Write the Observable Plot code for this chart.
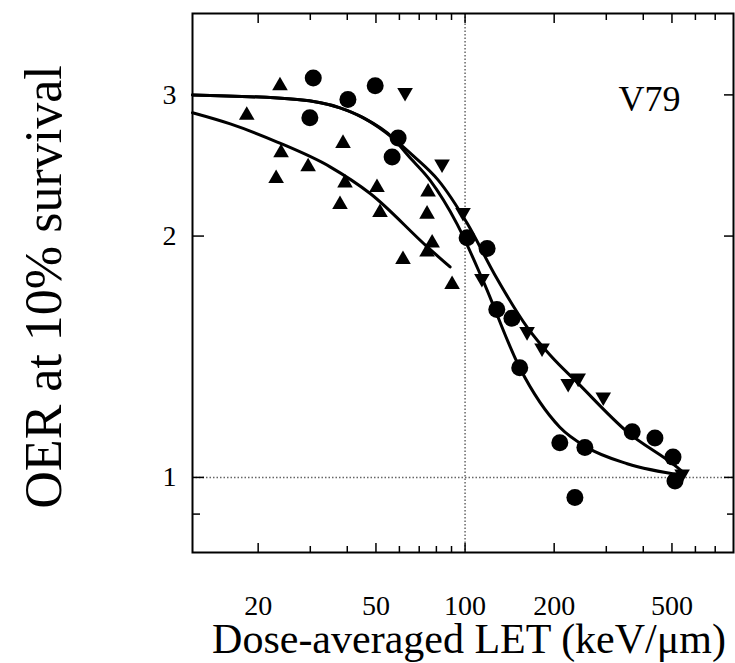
<!DOCTYPE html>
<html><head><meta charset="utf-8">
<script src="https://cdn.jsdelivr.net/npm/d3@7"></script>
<script src="https://cdn.jsdelivr.net/npm/@observablehq/plot@0.6"></script>
<style>body{margin:0;background:#fff}</style>
</head><body><div id="chart"></div>
<script>
// Tick values
const xTickLabels = [20, 50, 100, 200, 500];
const xMinorTicks = [30, 40, 60, 70, 80, 90, 300, 400, 600, 700];
const yTickLabels = [1, 2, 3];
const yMinorTicks = [0.9];

// Up triangles
const upX = [18.3, 23.7, 23.9, 23.0, 29.5, 38.7, 39.3, 37.8, 50.4, 51.6, 61.7, 75.0, 74.4, 77.4, 74.4, 90.4];
const upY = [2.83, 3.08, 2.54, 2.36, 2.44, 2.61, 2.33, 2.19, 2.30, 2.14, 1.87, 2.27, 2.13, 1.96, 1.91, 1.74];
// Circles
const circX = [30.7, 29.9, 40.2, 49.7, 59.4, 56.7, 101.6, 118.7, 128, 144, 153, 209, 254, 367, 438, 504, 512, 235];
const circY = [3.15, 2.81, 2.96, 3.08, 2.65, 2.51, 1.99, 1.93, 1.62, 1.58, 1.37, 1.105, 1.09, 1.14, 1.12, 1.06, 0.99, 0.944];
// Down triangles
const downX = [62.7, 83.6, 98.4, 114, 162, 182, 223, 241, 293, 541];
const downY = [3.02, 2.46, 2.14, 1.77, 1.52, 1.45, 1.31, 1.33, 1.26, 1.01];

// Fitted curves
const heCurveX = [12, 16.1, 23.2, 35.0, 47.8, 74.4, 89];
const heCurveY = [2.85, 2.76, 2.62, 2.44, 2.26, 1.94, 1.83];
const cCurveX = [12, 27.1, 37.8, 45.2, 57.1, 64.2, 76, 94, 115, 153, 209, 258, 353, 545];
const cCurveY = [3.0, 2.96, 2.89, 2.81, 2.65, 2.52, 2.35, 2.07, 1.76, 1.37, 1.155, 1.09, 1.04, 1.006];
const neCurveX = [12, 27.1, 37.8, 45.2, 57.1, 66.7, 81, 102, 126, 162, 194, 241, 353, 520, 545];
const neCurveY = [3.0, 2.96, 2.89, 2.81, 2.65, 2.52, 2.35, 2.07, 1.79, 1.54, 1.42, 1.31, 1.14, 1.03, 1.015];

const zip = (xs, ys) => xs.map((x, i) => ({x, y: ys[i]}));

const triDown = {
  draw(ctx, size) {
    const s3 = Math.sqrt(3);
    const y = -Math.sqrt(size / (s3 * 3));
    ctx.moveTo(0, -y * 2);
    ctx.lineTo(-s3 * y, y);
    ctx.lineTo(s3 * y, y);
    ctx.closePath();
  }
};

const serif = "Liberation Serif";
const tickOpts = {tickFormat: () => "", label: null, strokeWidth: 1.5};

const chart = Plot.plot({
  width: 735,
  height: 663,
  marginLeft: 192,
  marginRight: 2,
  marginTop: 13,
  marginBottom: 111,
  style: {background: "white", fontFamily: serif, color: "black"},
  x: {type: "log", domain: [12, 807]},
  y: {type: "log", domain: [0.806, 3.79]},
  marks: [
    Plot.ruleX([100], {stroke: "#666", strokeWidth: 1.5, strokeDasharray: "1.5,2"}),
    Plot.ruleY([1], {stroke: "#666", strokeWidth: 1.5, strokeDasharray: "1.5,2"}),
    Plot.line(zip(heCurveX, heCurveY), {x: "x", y: "y", curve: "monotone-x", stroke: "black", strokeWidth: 3}),
    Plot.line(zip(cCurveX, cCurveY), {x: "x", y: "y", curve: "monotone-x", stroke: "black", strokeWidth: 3}),
    Plot.line(zip(neCurveX, neCurveY), {x: "x", y: "y", curve: "monotone-x", stroke: "black", strokeWidth: 3}),
    Plot.dot(zip(upX, upY), {x: "x", y: "y", symbol: "triangle", r: 5.8, fill: "black"}),
    Plot.dot(zip(circX, circY), {x: "x", y: "y", symbol: "circle", r: 8.5, fill: "black"}),
    Plot.dot(zip(downX, downY), {x: "x", y: "y", symbol: triDown, r: 5.8, fill: "black"}),
    Plot.text(["V79"], {x: 420, y: 2.96, text: d => d, fontSize: 36, fontFamily: serif, fill: "black"}),
    Plot.frame({stroke: "black", strokeWidth: 2}),
    // inward tick marks
    Plot.axisX(xTickLabels, {anchor: "bottom", tickSize: -9, ...tickOpts}),
    Plot.axisX(xMinorTicks, {anchor: "bottom", tickSize: -6, ...tickOpts}),
    Plot.axisX(xTickLabels, {anchor: "top", tickSize: -9, ...tickOpts}),
    Plot.axisX(xMinorTicks, {anchor: "top", tickSize: -6, ...tickOpts}),
    Plot.axisY(yTickLabels, {anchor: "left", tickSize: -12, ...tickOpts}),
    Plot.axisY(yMinorTicks, {anchor: "left", tickSize: -8, ...tickOpts}),
    Plot.axisY(yTickLabels, {anchor: "right", tickSize: -10, ...tickOpts}),
    Plot.axisY(yMinorTicks, {anchor: "right", tickSize: -7, ...tickOpts}),
    // tick labels
    Plot.text(xTickLabels, {x: d => d, frameAnchor: "bottom", lineAnchor: "middle", dy: 54, text: d => String(d), fontSize: 28, fontFamily: serif, fill: "black"}),
    Plot.text(yTickLabels, {y: d => d, frameAnchor: "left", textAnchor: "end", lineAnchor: "middle", dx: -16, text: d => String(d), fontSize: 28, fontFamily: serif, fill: "black"}),
    // axis titles
    Plot.text(["OER at 10% survival"], {frameAnchor: "left", textAnchor: "middle", lineAnchor: "middle", dx: -148, dy: 4, rotate: -90, text: d => d, fontSize: 52, fontFamily: serif, fill: "black"}),
    Plot.text(["Dose-averaged LET (keV/μm)"], {frameAnchor: "bottom", textAnchor: "middle", lineAnchor: "middle", dx: 6, dy: 87, text: d => d, fontSize: 42, fontFamily: serif, fill: "black"})
  ]
});
document.getElementById("chart").appendChild(chart);
</script>
</body></html>
